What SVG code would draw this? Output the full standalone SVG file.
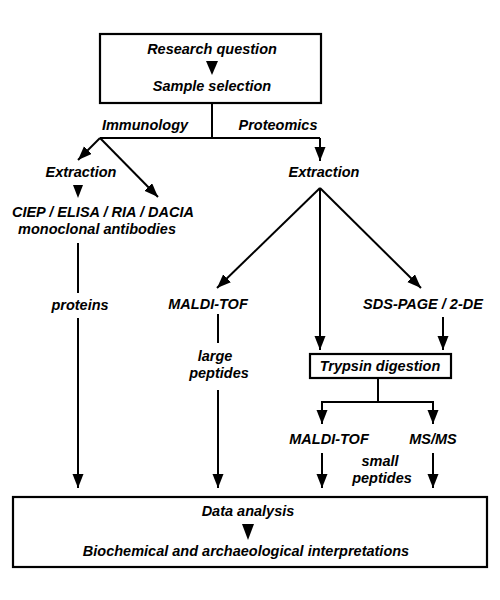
<svg xmlns="http://www.w3.org/2000/svg" width="500" height="600" viewBox="0 0 500 600">
<style>
text{font-family:"Liberation Sans",Arial,sans-serif;font-weight:bold;font-style:italic;font-size:14.5px;fill:#000;text-anchor:middle}
.ln{stroke:#000;stroke-width:2;fill:none}
.box{stroke:#000;stroke-width:2.2;fill:#fff}
.tri{fill:#000}
</style>
<defs>
<marker id="ah" markerUnits="userSpaceOnUse" markerWidth="15" markerHeight="12" refX="14" refY="5.5" orient="auto">
<path d="M0,0 L14,5.5 L0,11 z" fill="#000"/>
</marker>
</defs>
<rect width="500" height="600" fill="#fff"/>

<g id="top-box">
<rect class="box" x="100" y="34" width="221" height="69"/>
<text x="212" y="54">Research question</text>
<polygon class="tri" points="206,61 218,61 212,75"/>
<text x="212" y="91">Sample selection</text>
</g>

<g id="immunology-label"><text x="145" y="130">Immunology</text></g>
<g id="proteomics-label"><text x="278" y="130">Proteomics</text></g>

<g id="extraction-left">
<text x="81" y="177">Extraction</text>
<polygon class="tri" points="73,185 83,185 78,198"/>
</g>
<g id="methods">
<text x="103" y="217">CIEP / ELISA / RIA / DACIA</text>
<text x="97" y="234">monoclonal antibodies</text>
</g>
<g id="proteins"><text x="80" y="310">proteins</text></g>

<g id="extraction-right"><text x="324" y="177">Extraction</text></g>
<g id="maldi1"><text x="208" y="309">MALDI-TOF</text></g>
<g id="large-peptides"><text x="215" y="361">large</text><text x="219" y="378">peptides</text></g>
<g id="sds"><text x="423" y="309">SDS-PAGE / 2-DE</text></g>

<g id="trypsin">
<rect class="box" x="310" y="354" width="141" height="24"/>
<text x="380" y="371">Trypsin digestion</text>
</g>

<g id="maldi2"><text x="329" y="444">MALDI-TOF</text></g>
<g id="msms"><text x="433" y="444">MS/MS</text></g>
<g id="small-peptides"><text x="380" y="466">small</text><text x="382" y="483">peptides</text></g>

<g id="bottom-box">
<rect class="box" x="13" y="497" width="474" height="70"/>
<text x="248" y="516">Data analysis</text>
<polygon class="tri" points="242,524 254,524 248,540"/>
<text x="246" y="556">Biochemical and archaeological interpretations</text>
</g>

<g id="connectors">
<path class="ln" d="M212,103 V138 M100,138 H320"/>
<path class="ln" d="M100,138 L78,160" marker-end="url(#ah)"/>
<path class="ln" d="M100,138 L158,197" marker-end="url(#ah)"/>
<path class="ln" d="M320,138 V161" marker-end="url(#ah)"/>
<path class="ln" d="M78,243 V293"/>
<path class="ln" d="M78,318 V488" marker-end="url(#ah)"/>
<path class="ln" d="M320,188 L217,288" marker-end="url(#ah)"/>
<path class="ln" d="M320,188 V350" marker-end="url(#ah)"/>
<path class="ln" d="M320,188 L421,288" marker-end="url(#ah)"/>
<path class="ln" d="M218,314 V343"/>
<path class="ln" d="M218,390 V488" marker-end="url(#ah)"/>
<path class="ln" d="M443,317 V350" marker-end="url(#ah)"/>
<path class="ln" d="M378,378 V402 M322,402 H433"/>
<path class="ln" d="M322,401 V424" marker-end="url(#ah)"/>
<path class="ln" d="M433,401 V424" marker-end="url(#ah)"/>
<path class="ln" d="M322,453 V488" marker-end="url(#ah)"/>
<path class="ln" d="M433,453 V488" marker-end="url(#ah)"/>
</g>
</svg>
